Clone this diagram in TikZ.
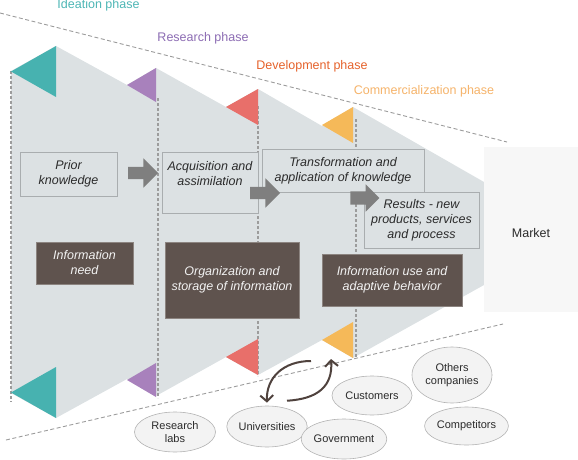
\documentclass[tikz,border=0pt]{standalone}
\usepackage{fontspec}
\setmainfont{Liberation Sans}
\usetikzlibrary{shapes.geometric,shapes.arrows,arrows.meta,fadings}
\definecolor{panelgray}{HTML}{DCE1E3}
\definecolor{shadowgray}{HTML}{AEB3B6}
\definecolor{ideation}{HTML}{47B2B0}
\definecolor{research}{HTML}{A881BC}
\definecolor{development}{HTML}{E86F6A}
\definecolor{commercial}{HTML}{F5B959}
\definecolor{ideationtext}{HTML}{4DB6B5}
\definecolor{researchtext}{HTML}{8C6CB3}
\definecolor{developmenttext}{HTML}{E5622B}
\definecolor{commercialtext}{HTML}{F5B36A}
\definecolor{stageline}{HTML}{A9ADAF}
\definecolor{needbrown}{HTML}{5F534E}
\definecolor{needline}{HTML}{8C8480}
\definecolor{needtext}{HTML}{F2F2F2}
\definecolor{arrowgray}{HTML}{7F7F7F}
\definecolor{guidegray}{HTML}{9C9C9C}
\definecolor{actorfill}{HTML}{F3F3F3}
\definecolor{actorline}{HTML}{B3B3B3}
\definecolor{flowbrown}{HTML}{4F423D}
\definecolor{textdark}{HTML}{2B2B2B}
\definecolor{marketfill}{HTML}{F7F7F7}
\tikzfading[name=softends, top color=transparent!100, middle color=transparent!25, bottom color=transparent!100]
\begin{document}
\begin{tikzpicture}[x=1pt,y=-1pt,
  phase/.style={anchor=base,inner sep=0pt,font=\fontsize{12.5}{15}\selectfont},
  guide/.style={draw=guidegray,line width=1.1pt,dash pattern=on 3pt off 2pt},
  funnel/.style={draw=guidegray,line width=0.9pt,dash pattern=on 4pt off 2.5pt},
  stagetext/.style={align=center,inner sep=0pt,text=textdark,font=\fontsize{12.5}{15}\selectfont\itshape},
  stage/.style={stagetext,draw=stageline,fill=panelgray,line width=0.8pt},
  need/.style={draw=needline,fill=needbrown,line width=0.8pt,align=center,inner sep=0pt,text=needtext,font=\fontsize{12.5}{15}\selectfont\itshape},
  push/.style={single arrow,fill=arrowgray,inner sep=0pt,text height=6pt,text depth=6pt,single arrow head extend=8.5pt,minimum height=30pt},
  actor/.style={ellipse,draw=actorline,fill=actorfill,line width=0.6pt,inner sep=0pt,align=center,text=textdark,font=\fontsize{11}{12.5}\selectfont},
  flow/.style={draw=flowbrown,line width=2pt,-{Straight Barb[length=6pt,width=13pt]}}
]
  \useasboundingbox (0,0) rectangle (578,460);
  \fill[panelgray] (11,71) -- (56,46) -- (127,85) -- (156,68) -- (226,107) -- (258,89) -- (322,126) -- (353,107) -- (484,182)
    -- (484,285) -- (353,358) -- (322,340) -- (258,375) -- (226,357) -- (156,396) -- (127,379) -- (56,418) -- (11,393) -- cycle;
  \foreach \x in {158,258,356}
    \shade[left color=panelgray,right color=shadowgray,path fading=softends] (\x-18,140) rectangle (\x-1,370);
  \draw[funnel] (0,13) -- (507,142);
  \draw[funnel] (6,440) -- (503,324);
  \foreach \x/\a/\b in {11/71/402,158/98/398,258/106/376,356/119/358}
    \draw[guide] (\x,\a) -- (\x,\b);
  \foreach \x/\w/\h/\t/\b/\c in {56/45/51/46/367/ideation,156/29/34/68/363/research,258/32/36/89/339/development,353/31/36/107/322/commercial}
  {
    \fill[\c] (\x-\w,\t+\h/2) -- (\x,\t) -- (\x,\t+\h) -- cycle;
    \fill[\c] (\x-\w,\b+\h/2) -- (\x,\b) -- (\x,\b+\h) -- cycle;
  }
  \node[phase,text=ideationtext] (ideation) at (98.5,9) {Ideation phase};
  \node[phase,text=researchtext] (research) at (203,42) {Research phase};
  \node[phase,text=developmenttext] (development) at (312,70) {Development phase};
  \node[phase,text=commercialtext] (commercial) at (424,94) {Commercialization phase};
  \node[fill=marketfill,minimum width=94,minimum height=165,text height=16pt,text=textdark,font=\fontsize{12.5}{15}\selectfont] (market) at (531,229.5) {Market};
  \node[stage,minimum width=97,minimum height=44] (prior) at (68.5,174) {Prior\\knowledge};
  \node[stage,minimum width=96,minimum height=61,label={[stagetext,yshift=9pt]center:Acquisition and\\assimilation}] (acquisition) at (210,182.5) {};
  \node[stage,minimum width=162,minimum height=43] (transformation) at (343,170.5) {Transformation and\\application of knowledge};
  \node[stage,minimum width=115,minimum height=56] (results) at (421.5,220) {Results - new\\products, services\\and process};
  \node[push] (priorpush) at (140,173) {};
  \node[push] (acquisitionpush) at (262,193) {};
  \node[push,minimum height=29pt,text height=6.5pt,text depth=6.5pt,single arrow head extend=7pt] (transformationpush) at (361.5,198) {};
  \node[need,minimum width=97,minimum height=42] (infoneed) at (84.5,263) {Information\\need};
  \node[need,minimum width=134,minimum height=76] (storage) at (232,280) {Organization and\\storage of information};
  \node[need,minimum width=140,minimum height=52] (infouse) at (392,280) {Information use and\\adaptive behavior};
  \node[actor,minimum width=81,minimum height=40] (labs) at (175,432) {Research\\labs};
  \node[actor,minimum width=80,minimum height=41] (univ) at (267,426.5) {Universities};
  \node[actor,minimum width=82,minimum height=40] (government) at (344,439) {Government};
  \node[actor,minimum width=80,minimum height=39] (customers) at (372,395.5) {Customers};
  \node[actor,minimum width=80,minimum height=56] (companies) at (452,375) {Others\\companies};
  \node[actor,minimum width=81,minimum height=38] (competitors) at (466.5,426) {Competitors};
  \coordinate (launch) at (311,361);
  \coordinate (uptake) at (331,359);
  \draw[flow] (launch) .. controls (283,361) and (266,378) .. ([yshift=3pt]univ.north);
  \draw[flow] ([shift={(20,-5)}]univ.north) .. controls (318,399) and (333,386) .. (uptake);
\end{tikzpicture}
\end{document}
